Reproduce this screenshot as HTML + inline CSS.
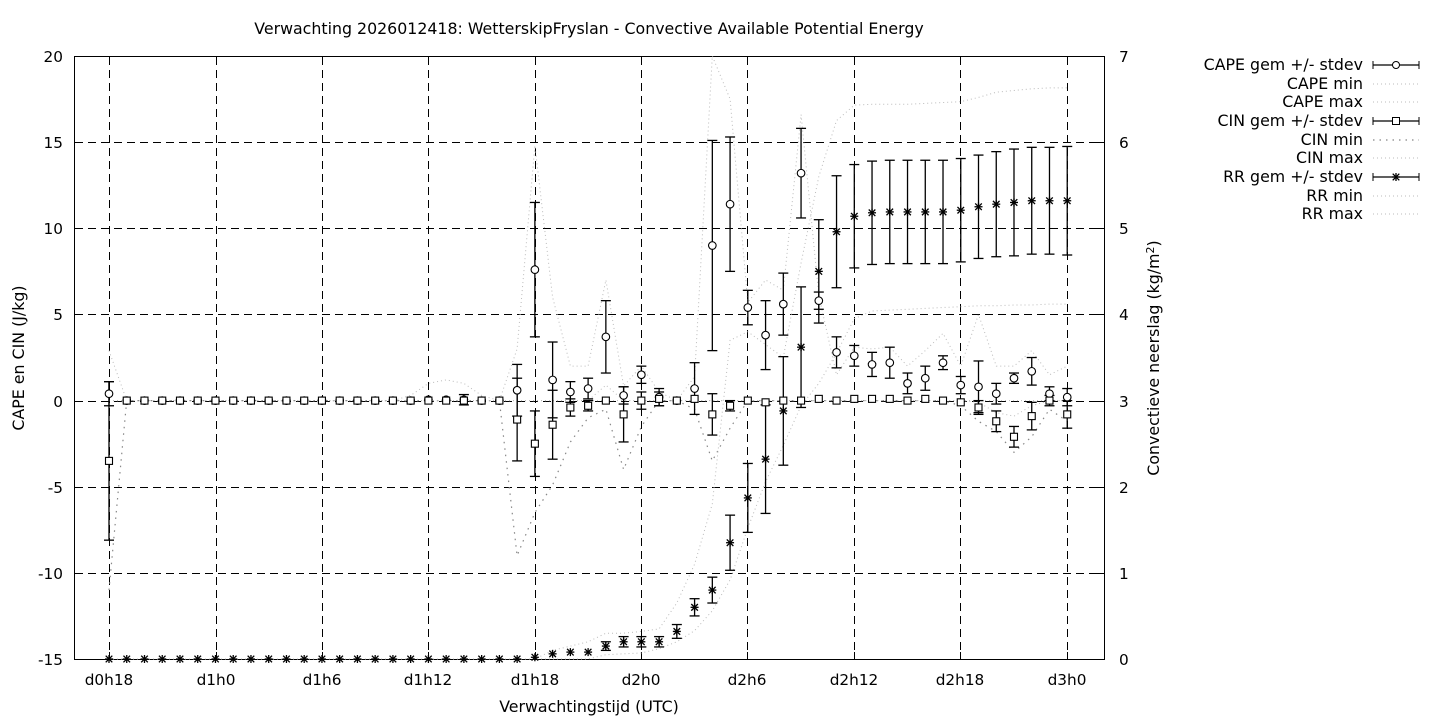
<!DOCTYPE html>
<html><head><meta charset="utf-8"><style>
body{margin:0;background:#fff}
svg{display:block}
text{font-family:"DejaVu Sans","Liberation Sans",sans-serif;font-size:15.8px;fill:#000}
.t{font-size:15.3px}
</style></head><body>
<svg id="s" width="1440" height="720" viewBox="0 0 1440 720" xmlns="http://www.w3.org/2000/svg">
<rect width="1440" height="720" fill="#fff"/>
<g id="grid" stroke="#000" stroke-width="1" stroke-dasharray="8,5" fill="none"></g>
<rect x="74.5" y="56.5" width="1030" height="603" fill="none" stroke="#000"/>
<g id="ticks" stroke="#000"></g>
<text x="589" y="34" text-anchor="middle">Verwachting 2026012418: WetterskipFryslan - Convective Available Potential Energy</text>
<g text-anchor="end" class="t">
<text class="t" x="63" y="62">20</text><text class="t" x="63" y="148">15</text><text class="t" x="63" y="234">10</text><text class="t" x="63" y="320">5</text><text class="t" x="63" y="407">0</text><text class="t" x="63" y="493">-5</text><text class="t" x="63" y="579">-10</text><text class="t" x="63" y="665">-15</text>
</g>
<g text-anchor="start">
<text class="t" x="1119" y="62">7</text><text class="t" x="1119" y="148">6</text><text class="t" x="1119" y="234">5</text><text class="t" x="1119" y="320">4</text><text class="t" x="1119" y="407">3</text><text class="t" x="1119" y="493">2</text><text class="t" x="1119" y="579">1</text><text class="t" x="1119" y="665">0</text>
</g>
<g text-anchor="middle">
<text class="t" x="109" y="685">d0h18</text><text class="t" x="216" y="685">d1h0</text><text class="t" x="322" y="685">d1h6</text><text class="t" x="428" y="685">d1h12</text><text class="t" x="535" y="685">d1h18</text><text class="t" x="641" y="685">d2h0</text><text class="t" x="747" y="685">d2h6</text><text class="t" x="854" y="685">d2h12</text><text class="t" x="960" y="685">d2h18</text><text class="t" x="1067" y="685">d3h0</text>
<text x="589" y="712">Verwachtingstijd (UTC)</text>
</g>
<text transform="translate(24,358) rotate(-90)" text-anchor="middle">CAPE en CIN (J/kg)</text>
<text transform="translate(1159,358) rotate(-90)" text-anchor="middle">Convectieve neerslag (kg/m<tspan dy="-5" font-size="11">2</tspan><tspan dy="5">)</tspan></text>
<g text-anchor="end">
<text x="1363" y="70">CAPE gem +/- stdev</text>
<text x="1363" y="89">CAPE min</text>
<text x="1363" y="107">CAPE max</text>
<text x="1363" y="126">CIN gem +/- stdev</text>
<text x="1363" y="145">CIN min</text>
<text x="1363" y="163">CIN max</text>
<text x="1363" y="182">RR gem +/- stdev</text>
<text x="1363" y="201">RR min</text>
<text x="1363" y="219">RR max</text>
</g>
<g id="plot"></g>
</svg>
<script>
var NS="http://www.w3.org/2000/svg";
function el(p,t,a){var e=document.createElementNS(NS,t);for(var k in a)e.setAttribute(k,a[k]);p.appendChild(e);return e;}
var grid=document.getElementById('grid'),ticks=document.getElementById('ticks'),P=document.getElementById('plot');
var xs=[109,216,322,428,535,641,747,854,960,1067];
xs.forEach(function(x){el(grid,'line',{x1:x+.5,y1:57,x2:x+.5,y2:659});el(ticks,'line',{x1:x+.5,y1:659,x2:x+.5,y2:652});el(ticks,'line',{x1:x+.5,y1:57,x2:x+.5,y2:64});});
for(var i=0;i<8;i++){var y=Math.round(56+i*86.14)+.5;el(grid,'line',{x1:75,y1:y,x2:1104,y2:y});el(ticks,'line',{x1:75,y1:y,x2:82,y2:y});el(ticks,'line',{x1:1104,y1:y,x2:1097,y2:y});}
function X(i){return 109+17.745*i;}
function YL(v){return 400.6-v*17.23;}
function YR(v){return 659-v*86.14;}
var N=55;
function fill(arr){var a=[];for(var i=0;i<N;i++)a.push(arr[i]!==undefined?arr[i]:0);return a;}
var cm=fill({0:0.4,18:0.05,19:0.05,20:0.05,23:0.6,24:7.6,25:1.2,26:0.5,27:0.7,28:3.7,29:0.3,30:1.5,31:0.2,33:0.7,34:9.0,35:11.4,36:5.4,37:3.8,38:5.6,39:13.2,40:5.8,41:2.8,42:2.6,43:2.1,44:2.2,45:1.0,46:1.3,47:2.2,48:0.9,49:0.8,50:0.4,51:1.3,52:1.7,53:0.4,54:0.2});
var cs=fill({0:0.7,20:0.3,23:1.5,24:3.9,25:2.2,26:0.6,27:0.6,28:2.1,29:0.5,30:0.5,31:0.5,33:1.5,34:6.1,35:3.9,36:1.0,37:2.0,38:1.8,39:2.6,40:0.5,41:0.9,42:0.6,43:0.7,44:0.9,45:0.6,46:0.7,47:0.4,48:0.5,49:1.5,50:0.6,51:0.3,52:0.8,53:0.4,54:0.5});
var nm=fill({0:-3.5,23:-1.1,24:-2.5,25:-1.4,26:-0.4,27:-0.3,29:-0.8,31:0.1,33:0.1,34:-0.8,35:-0.3,37:-0.1,40:0.1,42:0.1,43:0.1,44:0.1,46:0.1,48:-0.1,49:-0.4,50:-1.2,51:-2.1,52:-0.9,54:-0.8});
var ns=fill({0:4.6,23:2.4,24:1.9,25:2.0,26:0.5,27:0.3,29:1.6,30:0.5,31:0.4,34:1.2,35:0.3,49:0.4,50:0.6,51:0.6,52:0.8,53:0.3,54:0.8});
var rm=fill({24:0.02,25:0.06,26:0.08,27:0.08,28:0.15,29:0.2,30:0.2,31:0.2,32:0.32,33:0.6,34:0.8,35:1.35,36:1.87,37:2.32,38:2.88,39:3.62,40:4.5,41:4.96,42:5.14,43:5.18,44:5.19,45:5.19,46:5.19,47:5.19,48:5.21,49:5.25,50:5.28,51:5.3,52:5.32,53:5.32,54:5.32});
var rs=fill({28:0.05,29:0.06,30:0.06,31:0.06,32:0.08,33:0.1,34:0.15,35:0.32,36:0.4,37:0.63,38:0.63,39:0.7,40:0.6,41:0.65,42:0.6,43:0.6,44:0.6,45:0.6,46:0.6,47:0.6,48:0.6,49:0.6,50:0.61,51:0.62,52:0.62,53:0.62,54:0.63});
var capemax=fill({0:2.9,17:0.3,18:1.0,19:1.2,20:1.0,21:0.3,23:3.0,24:14.8,25:6,26:2.0,27:2.0,28:7.0,29:0.85,30:2.0,31:0.5,33:1.4,34:20,35:17.5,36:5.7,37:7.0,38:6.4,39:16.6,40:6.1,41:1.5,42:3.1,43:3.0,44:3.1,45:2.0,46:2.9,47:3.9,48:2.0,49:5.0,50:2.0,51:2.0,52:2.9,53:1.5,54:2.0});
var capemin=fill({});
var cinmin=fill({0:-11,22:0,23:-9,24:-6.5,25:-4.9,26:-2.4,27:-1.0,28:-0.5,29:-4.0,30:-1.5,33:-0.5,34:-3.5,35:-1.6,48:-0.3,49:-1.2,50:-1.8,51:-3.0,52:-2.1,53:-0.5,54:-1.2});
var cinmax=fill({28:0.9,49:-0.1,50:-0.7,51:-0.9,52:-0.3});
var rrmin=fill({28:0.05,29:0.06,30:0.07,31:0.12,32:0.2,33:0.33,34:0.56,35:0.92,36:1.52,37:2.06,38:2.48,39:2.94,40:3.2,41:3.55,42:3.95,43:4.04,44:4.05,45:4.06,46:4.07,47:4.08,48:4.09,49:4.1,50:4.1,51:4.11,52:4.11,53:4.12,54:4.12});
var rrmax=fill({25:0.1,26:0.15,27:0.2,28:0.3,29:0.3,30:0.32,31:0.35,32:0.65,33:1.1,34:1.8,35:3.7,36:3.8,37:3.65,38:3.5,39:4.6,40:5.6,41:6.25,42:6.43,43:6.44,44:6.44,45:6.44,46:6.45,47:6.46,48:6.47,49:6.52,50:6.58,51:6.6,52:6.62,53:6.63,54:6.63});
function line(arr,Y,col,dash,w){var pts=arr.map(function(v,i){return X(i).toFixed(1)+','+Y(v).toFixed(1)}).join(' ');el(P,'polyline',{points:pts,fill:'none',stroke:col,'stroke-width':w||1,'stroke-dasharray':dash});}
line(capemin,YL,'#bbb','1,3');
line(capemax,YL,'#bbb','1,3');
line(cinmin,YL,'#888','1.5,5',1.2);
line(cinmax,YL,'#bbb','1,3');
line(rrmin,YR,'#bbb','1,3');
line(rrmax,YR,'#bbb','1,3');
function eb(x,y1,y2){if(Math.abs(y2-y1)<1)return;el(P,'line',{x1:x,y1:y1,x2:x,y2:y2,stroke:'#000','stroke-width':1.3});el(P,'line',{x1:x-5,y1:y1,x2:x+5,y2:y1,stroke:'#000','stroke-width':1.3});el(P,'line',{x1:x-5,y1:y2,x2:x+5,y2:y2,stroke:'#000','stroke-width':1.3});}
function star(x,y){var g='#000';[[-4,0,4,0],[0,-4,0,4],[-3.3,-3.3,3.3,3.3],[-3.3,3.3,3.3,-3.3]].forEach(function(d){el(P,'line',{x1:x+d[0],y1:y+d[1],x2:x+d[2],y2:y+d[3],stroke:g,'stroke-width':1.3});});}
for(var i=0;i<N;i++){var x=X(i);
 eb(x,YL(cm[i]+cs[i]),YL(cm[i]-cs[i]));
 eb(x,YL(nm[i]+ns[i]),YL(nm[i]-ns[i]));
 eb(x,YR(rm[i]+rs[i]),YR(Math.max(0,rm[i]-rs[i])));
 el(P,'circle',{cx:x,cy:YL(cm[i]),r:3.8,fill:'#fff',stroke:'#000','stroke-width':1.1});
 el(P,'rect',{x:x-3.5,y:YL(nm[i])-3.5,width:7,height:7,fill:'#fff',stroke:'#000','stroke-width':1.1});
 star(x,YR(rm[i]));
}
var L=[65,84,102,121,140,158,177,196,214];
var a=1373,b=1419,c=1396;
function lsol(y,m){el(P,'line',{x1:a,y1:y,x2:b,y2:y,stroke:'#000','stroke-width':1.2});el(P,'line',{x1:a,y1:y-4,x2:a,y2:y+4,stroke:'#000'});el(P,'line',{x1:b,y1:y-4,x2:b,y2:y+4,stroke:'#000'});
 if(m=='c')el(P,'circle',{cx:c,cy:y,r:3.5,fill:'#fff',stroke:'#000'});if(m=='s')el(P,'rect',{x:c-3.5,y:y-3.5,width:7,height:7,fill:'#fff',stroke:'#000'});if(m=='a')star(c,y);}
function ldot(y,col,d){el(P,'line',{x1:a,y1:y,x2:b,y2:y,stroke:col,'stroke-dasharray':d});}
lsol(L[0],'c');ldot(L[1],'#bbb','1,3');ldot(L[2],'#bbb','1,3');lsol(L[3],'s');ldot(L[4],'#666','1.5,5');ldot(L[5],'#bbb','1,3');lsol(L[6],'a');ldot(L[7],'#bbb','1,3');ldot(L[8],'#bbb','1,3');
</script>
</body></html>
